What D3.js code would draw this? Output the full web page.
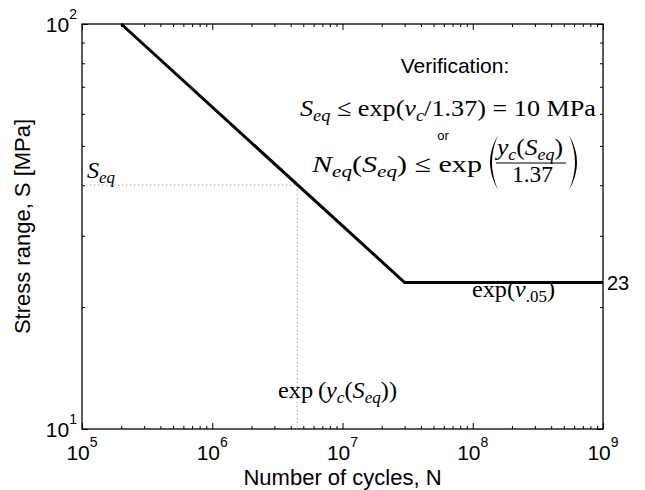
<!DOCTYPE html>
<html>
<head>
<meta charset="utf-8" />
<style>
  body { margin: 0; background: #fff; }
  svg { display: block; }
  .tick line { stroke: #000; stroke-width: 1; }
  .lbl { font-family: "Liberation Sans", Arial, sans-serif; fill: #000; }
  .math { font-family: "Liberation Serif", "Times New Roman", serif; fill: #000; }
</style>
</head>
<body>
<svg width="645" height="490"></svg>
<script src="https://cdn.jsdelivr.net/npm/d3@7"></script>
<script>
// S-N curve: number of cycles vs stress range
var curveN = [2e5, 3e7, 1e9];
var curveS = [100, 23, 23];
// equivalent stress and where it meets the curve
var seqS = 40;
var seqN = 4.5e6;
var cafl = 23;
var xMajor = [1e5, 1e6, 1e7, 1e8, 1e9];
var yMajor = [10, 100];
var xExp = ["5", "6", "7", "8", "9"];
var yExp = ["1", "2"];

var svg = d3.select("svg");
var pL = 82, pR = 603, pT = 24, pB = 429;

var x = d3.scaleLog().domain([1e5, 1e9]).range([pL, pR]);
var y = d3.scaleLog().domain([10, 100]).range([pB, pT]);

var xMinor = x.ticks().filter(function (d) { return xMajor.indexOf(d) < 0; });
var yMinor = y.ticks().filter(function (d) { return yMajor.indexOf(d) < 0; });

// ticks, pointing inwards on all four sides
function ticks(axis, pos, len, vals) {
  var g = svg.append("g")
    .attr("transform", pos)
    .call(axis.tickValues(vals).tickSize(-len).tickSizeOuter(0).tickFormat(""));
  g.select(".domain").remove();
}
ticks(d3.axisBottom(x), "translate(0," + pB + ")", 6, xMajor);
ticks(d3.axisBottom(x), "translate(0," + pB + ")", 3, xMinor);
ticks(d3.axisTop(x), "translate(0," + pT + ")", 6, xMajor);
ticks(d3.axisTop(x), "translate(0," + pT + ")", 3, xMinor);
ticks(d3.axisLeft(y), "translate(" + pL + ",0)", 6, yMajor);
ticks(d3.axisLeft(y), "translate(" + pL + ",0)", 3, yMinor);
ticks(d3.axisRight(y), "translate(" + pR + ",0)", 6, yMajor);
ticks(d3.axisRight(y), "translate(" + pR + ",0)", 3, yMinor);

// dotted guide lines
svg.append("path")
  .attr("d", "M" + x(1e5) + "," + y(seqS) + "H" + x(seqN) + "V" + y(10))
  .attr("fill", "none")
  .attr("stroke", "#aaa")
  .attr("stroke-width", 1.2)
  .attr("stroke-dasharray", "1.2,2.8");

// the curve
var line = d3.line()
  .x(function (d, i) { return x(curveN[i]); })
  .y(function (d, i) { return y(curveS[i]); });
svg.append("path")
  .attr("d", line(curveN))
  .attr("fill", "none")
  .attr("stroke", "#000")
  .attr("stroke-width", 3);

svg.append("rect")
  .attr("x", pL).attr("y", pT)
  .attr("width", pR - pL).attr("height", pB - pT)
  .attr("fill", "none").attr("stroke", "#000").attr("stroke-width", 1.3);

// tick labels 10^k
var xl = svg.selectAll(".xl").data(xMajor).enter().append("text")
  .attr("class", "lbl")
  .attr("x", function (d) { return x(d); })
  .attr("y", 460)
  .attr("text-anchor", "middle");
xl.append("tspan").attr("font-size", 21).text("10");
xl.append("tspan").attr("font-size", 14).attr("dy", -13).text(function (d, i) { return xExp[i]; });

var yl = svg.selectAll(".yl").data(yMajor).enter().append("text")
  .attr("class", "lbl")
  .attr("x", pL - 5)
  .attr("y", function (d) { return y(d) + 8; })
  .attr("text-anchor", "end");
yl.append("tspan").attr("font-size", 21).text("10");
yl.append("tspan").attr("font-size", 14).attr("dy", -13).text(function (d, i) { return yExp[i]; });

svg.append("text").attr("class", "lbl")
  .attr("x", pR + 4).attr("y", y(cafl) + 7)
  .attr("font-size", 20).text(cafl);

// axis titles
svg.append("text").attr("class", "lbl")
  .attr("x", (pL + pR) / 2).attr("y", 485)
  .attr("text-anchor", "middle").attr("font-size", 22)
  .text("Number of cycles, N");
svg.append("text").attr("class", "lbl")
  .attr("transform", "translate(30," + (pT + pB) / 2 + ") rotate(-90)")
  .attr("text-anchor", "middle").attr("font-size", 22)
  .text("Stress range, S [MPa]");

// math annotations, built from pieces: [text, italic, subscript]
function mathText(xp, yp, anchor, size, width, parts) {
  var t = svg.append("text").attr("class", "math")
    .attr("x", xp).attr("y", yp)
    .attr("text-anchor", anchor).attr("font-size", size);
  if (width) t.attr("textLength", width).attr("lengthAdjust", "spacingAndGlyphs");
  var low = false;
  parts.forEach(function (p) {
    var s = t.append("tspan").text(p[0]);
    if (p[1]) s.attr("font-style", "italic");
    if (p[2] && !low) { s.attr("dy", size * 0.22).attr("font-size", size * 0.7); low = true; }
    else if (p[2]) { s.attr("font-size", size * 0.7); }
    else if (low) { s.attr("dy", -size * 0.22); low = false; }
  });
  return t;
}

svg.append("text").attr("class", "lbl")
  .attr("x", 455).attr("y", 73)
  .attr("text-anchor", "middle").attr("font-size", 21)
  .text("Verification:");

mathText(300, 116, "start", 24, 296, [
  ["S", 1], ["eq", 1, 1], [" \u2264 exp(", 0], ["v", 1], ["c", 1, 1],
  ["/1.37) = 10 MPa", 0]
]);

svg.append("text").attr("class", "lbl")
  .attr("x", 443).attr("y", 140)
  .attr("text-anchor", "middle").attr("font-size", 13)
  .text("or");

mathText(312, 172, "start", 24, 170, [
  ["N", 1], ["eq", 1, 1], ["(", 0], ["S", 1], ["eq", 1, 1], [") \u2264 exp", 0]
]);
// big parentheses and the fraction
svg.append("path")
  .attr("d", "M498,135 Q482,162.5 498,190 Q486,162.5 498,135 Z")
  .attr("fill", "#000");
svg.append("path")
  .attr("d", "M569,135 Q585,162.5 569,190 Q581,162.5 569,135 Z")
  .attr("fill", "#000");
svg.append("line")
  .attr("x1", 496).attr("x2", 566).attr("y1", 163).attr("y2", 163)
  .attr("stroke", "#000").attr("stroke-width", 1.2);
mathText(497, 155, "start", 23, 66, [
  ["y", 1], ["c", 1, 1], ["(", 0], ["S", 1], ["eq", 1, 1], [")", 0]
]);
mathText(512, 182, "start", 23, 41, [["1.37", 0]]);

mathText(472, 297, "start", 23, 83, [
  ["exp(", 0], ["v", 1], [".05", 0, 1], [")", 0]
]);

mathText(278, 398, "start", 23, 119, [
  ["exp\u2009(", 0], ["y", 1], ["c", 1, 1], ["(", 0], ["S", 1], ["eq", 1, 1], ["))", 0]
]);

mathText(87, 178, "start", 23, 28, [["S", 1], ["eq", 1, 1]]);
</script>
</body>
</html>
